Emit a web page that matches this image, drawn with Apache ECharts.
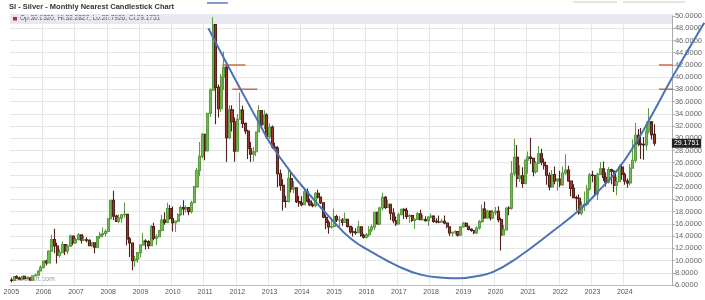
<!DOCTYPE html>
<html>
<head>
<meta charset="utf-8">
<title>SI - Silver - Monthly Nearest Candlestick Chart</title>
<script src="https://cdn.jsdelivr.net/npm/echarts@6/dist/echarts.min.js"></script>
<style>
  html, body { margin: 0; padding: 0; background: #ffffff; }
  #chart { width: 705px; height: 300px; }
</style>
</head>
<body>
<div id="chart"></div>
<script>
// monthly bars, Jan 2005 .. Dec 2024 (one row per year)
const openPx = [
  6.80, 6.75, 7.39, 7.15, 6.93, 7.44, 7.03, 7.19, 6.80, 7.49, 7.62, 8.29,
  8.88, 9.92, 9.61, 11.54, 13.44, 12.39, 10.86, 11.30, 12.61, 11.56, 12.36, 14.00,
  12.90, 13.42, 14.20, 13.32, 13.41, 13.32, 12.43, 12.92, 12.17, 13.91, 14.24, 14.42,
  14.76, 16.83, 19.84, 17.27, 16.40, 16.94, 17.48, 17.55, 13.55, 12.88, 9.96, 10.20,
  11.30, 12.52, 13.18, 13.09, 12.42, 15.55, 13.64, 13.90, 14.91, 16.61, 16.25, 18.52,
  16.87, 16.18, 16.44, 17.51, 18.65, 18.42, 18.68, 18.00, 19.46, 22.09, 24.74, 27.04,
  30.63, 27.95, 34.10, 37.87, 48.60, 38.33, 34.84, 40.05, 41.60, 30.10, 34.65, 32.70,
  27.90, 33.10, 34.61, 32.44, 31.19, 28.32, 27.38, 27.79, 31.03, 34.55, 32.21, 33.81,
  30.27, 31.82, 28.57, 28.39, 24.20, 22.30, 19.69, 19.66, 23.43, 21.70, 21.89, 19.64,
  19.43, 19.13, 21.23, 19.72, 19.11, 18.96, 21.01, 20.38, 19.45, 17.07, 16.22, 15.51,
  15.58, 17.20, 16.62, 16.64, 16.23, 16.73, 15.59, 14.69, 14.62, 14.55, 15.53, 14.12,
  13.82, 14.22, 15.01, 15.47, 17.90, 15.99, 18.60, 20.33, 18.70, 19.20, 17.75, 16.52,
  15.99, 17.50, 18.37, 18.19, 17.22, 17.34, 16.56, 16.73, 17.63, 16.67, 16.70, 16.50,
  17.11, 17.26, 16.41, 16.31, 16.29, 16.43, 16.14, 15.53, 14.53, 14.64, 14.74, 14.16,
  15.52, 16.08, 15.60, 15.10, 14.91, 14.54, 15.33, 16.37, 18.41, 16.97, 18.10, 16.97,
  17.85, 18.06, 16.70, 14.18, 15.02, 18.59, 18.55, 24.20, 26.88, 23.43, 23.86, 22.62,
  26.42, 26.91, 26.71, 24.54, 25.92, 27.48, 26.08, 25.52, 23.96, 22.05, 24.07, 23.01,
  23.35, 22.41, 24.31, 24.80, 23.00, 21.80, 20.30, 20.20, 17.80, 19.00, 19.20, 21.70,
  24.00, 23.90, 20.90, 24.10, 25.00, 23.60, 22.80, 24.90, 24.60, 22.30, 22.90, 25.30,
  24.10, 23.00, 22.70, 25.10, 26.40, 30.50, 29.10, 29.00, 28.90, 31.20, 32.70, 30.632
];
const highPx = [
  7.20, 7.45, 7.60, 7.35, 7.48, 7.50, 7.38, 7.25, 7.55, 7.85, 8.40, 9.25,
  10.05, 10.15, 11.70, 14.20, 15.20, 12.90, 11.80, 13.10, 12.70, 12.60, 14.25, 14.10,
  13.70, 14.50, 14.15, 14.10, 13.80, 13.50, 13.00, 12.95, 13.95, 14.70, 15.40, 15.10,
  16.95, 19.95, 21.40, 17.50, 17.55, 17.60, 19.50, 17.60, 13.85, 12.90, 10.75, 11.40,
  12.65, 14.50, 13.50, 13.30, 15.80, 16.20, 14.30, 15.05, 17.45, 17.90, 19.45, 19.10,
  18.85, 16.55, 17.75, 19.00, 19.85, 19.05, 18.70, 19.80, 22.20, 25.15, 29.40, 30.90,
  30.75, 34.15, 38.20, 49.80, 48.70, 38.80, 40.50, 44.20, 42.40, 35.40, 35.40, 33.40,
  33.95, 37.50, 35.35, 32.60, 31.40, 29.40, 28.60, 31.10, 35.40, 34.55, 34.60, 34.10,
  32.45, 32.10, 29.25, 28.70, 24.90, 23.30, 20.60, 25.10, 24.40, 23.00, 21.90, 20.60,
  20.50, 21.65, 21.80, 20.15, 19.50, 21.20, 21.60, 20.45, 19.50, 17.50, 16.60, 16.90,
  18.50, 17.50, 17.25, 16.95, 17.85, 16.75, 15.65, 15.50, 15.30, 16.50, 15.50, 14.40,
  14.50, 15.65, 15.90, 17.95, 17.75, 18.80, 21.10, 20.55, 19.95, 19.30, 18.55, 17.20,
  17.80, 18.50, 18.55, 18.65, 17.60, 17.50, 16.90, 17.95, 18.30, 17.45, 17.25, 17.25,
  17.70, 17.20, 16.90, 17.35, 16.85, 17.35, 16.20, 15.55, 14.75, 14.95, 14.75, 15.60,
  16.30, 16.25, 15.70, 15.30, 14.95, 15.55, 16.65, 19.15, 19.65, 18.30, 18.15, 18.25,
  18.75, 18.90, 17.00, 15.80, 18.70, 18.90, 26.30, 29.90, 28.90, 25.60, 25.25, 26.50,
  27.85, 30.10, 26.80, 26.30, 28.75, 28.30, 26.70, 25.60, 24.40, 24.80, 25.40, 23.50,
  24.70, 25.40, 27.40, 25.50, 23.00, 22.50, 20.60, 20.80, 19.70, 21.30, 22.40, 24.30,
  24.70, 24.00, 24.40, 26.10, 26.20, 24.40, 25.30, 25.00, 24.80, 23.70, 25.70, 25.90,
  24.40, 23.40, 25.80, 29.80, 32.50, 31.50, 31.70, 30.20, 32.70, 34.90, 32.30, 32.2827
];
const lowPx = [
  6.40, 6.70, 7.00, 6.85, 6.90, 6.95, 6.85, 6.70, 6.75, 7.38, 7.60, 8.25,
  8.70, 9.20, 9.60, 11.40, 11.20, 9.50, 10.45, 11.25, 10.90, 11.05, 12.20, 12.50,
  12.70, 13.35, 12.80, 13.20, 12.95, 12.35, 12.20, 11.20, 12.05, 13.55, 13.80, 13.95,
  14.60, 16.70, 16.60, 16.30, 16.10, 16.20, 17.00, 12.50, 10.60, 8.40, 9.00, 9.65,
  10.50, 12.45, 11.80, 11.90, 12.40, 13.30, 12.55, 13.90, 14.80, 15.85, 16.10, 16.70,
  14.75, 14.65, 16.30, 17.30, 17.40, 17.85, 17.40, 17.70, 19.40, 21.90, 23.80, 26.70,
  26.40, 27.85, 33.50, 37.75, 32.30, 33.40, 34.35, 37.90, 26.10, 29.90, 31.10, 26.15,
  27.90, 33.10, 31.70, 30.70, 26.60, 26.10, 26.20, 27.10, 31.00, 31.50, 31.50, 29.90,
  29.90, 28.30, 28.05, 22.00, 21.40, 18.20, 18.65, 19.50, 21.15, 21.00, 19.40, 18.80,
  18.90, 19.05, 19.50, 18.90, 18.70, 18.70, 20.15, 19.25, 16.95, 15.10, 14.40, 15.20,
  15.40, 16.30, 15.30, 15.70, 16.20, 15.40, 14.40, 13.95, 14.20, 14.45, 13.90, 13.60,
  13.60, 13.90, 14.70, 15.00, 15.85, 15.80, 18.20, 18.45, 18.65, 16.65, 16.10, 15.65,
  15.90, 17.50, 16.80, 16.80, 16.20, 16.30, 15.20, 16.70, 16.65, 16.55, 16.40, 15.65,
  16.90, 16.20, 16.10, 16.10, 16.20, 15.95, 15.30, 14.00, 13.95, 14.25, 13.95, 14.15,
  15.35, 15.50, 14.95, 14.70, 14.30, 14.30, 15.05, 16.20, 16.85, 16.85, 16.55, 16.80,
  17.40, 16.25, 11.64, 14.10, 14.90, 17.40, 18.30, 23.80, 22.00, 22.90, 21.90, 22.50,
  24.20, 25.80, 23.80, 24.20, 25.80, 25.60, 24.90, 22.40, 21.50, 21.90, 22.50, 21.40,
  22.00, 22.20, 24.00, 22.90, 20.50, 20.20, 18.20, 17.50, 17.40, 18.10, 18.90, 21.40,
  22.80, 20.70, 19.90, 24.00, 23.00, 22.10, 22.60, 22.50, 21.20, 20.70, 22.80, 23.20,
  22.40, 21.90, 22.30, 25.20, 26.00, 28.70, 26.60, 26.50, 28.00, 30.80, 29.80, 28.7926
];
const closePx = [
  6.75, 7.39, 7.15, 6.93, 7.44, 7.03, 7.19, 6.80, 7.49, 7.62, 8.29, 8.88,
  9.92, 9.61, 11.54, 13.44, 12.39, 10.86, 11.30, 12.61, 11.56, 12.36, 14.00, 12.90,
  13.42, 14.20, 13.32, 13.41, 13.32, 12.43, 12.92, 12.17, 13.91, 14.24, 14.42, 14.76,
  16.83, 19.84, 17.27, 16.40, 16.94, 17.48, 17.55, 13.55, 12.88, 9.96, 10.20, 11.30,
  12.52, 13.18, 13.09, 12.42, 15.55, 13.64, 13.90, 14.91, 16.61, 16.25, 18.52, 16.87,
  16.18, 16.44, 17.51, 18.65, 18.42, 18.68, 18.00, 19.46, 22.09, 24.74, 27.04, 30.63,
  27.95, 34.10, 37.87, 48.60, 38.33, 34.84, 40.05, 41.60, 30.10, 34.65, 32.70, 27.90,
  33.10, 34.61, 32.44, 31.19, 28.32, 27.38, 27.79, 31.03, 34.55, 32.21, 33.81, 30.27,
  31.82, 28.57, 28.39, 24.20, 22.30, 19.69, 19.66, 23.43, 21.70, 21.89, 19.64, 19.43,
  19.13, 21.23, 19.72, 19.11, 18.96, 21.01, 20.38, 19.45, 17.07, 16.22, 15.51, 15.58,
  17.20, 16.62, 16.64, 16.23, 16.73, 15.59, 14.69, 14.62, 14.55, 15.53, 14.12, 13.82,
  14.22, 15.01, 15.47, 17.90, 15.99, 18.60, 20.33, 18.70, 19.20, 17.75, 16.52, 15.99,
  17.50, 18.37, 18.19, 17.22, 17.34, 16.56, 16.73, 17.63, 16.67, 16.70, 16.50, 17.11,
  17.26, 16.41, 16.31, 16.29, 16.43, 16.14, 15.53, 14.53, 14.64, 14.74, 14.16, 15.52,
  16.08, 15.60, 15.10, 14.91, 14.54, 15.33, 16.37, 18.41, 16.97, 18.10, 16.97, 17.85,
  18.06, 16.70, 14.18, 15.02, 18.59, 18.55, 24.20, 26.88, 23.43, 23.86, 22.62, 26.42,
  26.91, 26.71, 24.54, 25.92, 27.48, 26.08, 25.52, 23.96, 22.05, 24.07, 23.01, 23.35,
  22.41, 24.31, 24.80, 23.00, 21.80, 20.30, 20.20, 17.80, 19.00, 19.20, 21.70, 24.00,
  23.90, 20.90, 24.10, 25.00, 23.60, 22.80, 24.90, 24.60, 22.30, 22.90, 25.30, 24.10,
  23.00, 22.70, 25.10, 26.40, 30.50, 29.10, 29.00, 28.90, 31.20, 32.70, 30.60, 29.1751
];

const years = [2005, 2006, 2007, 2008, 2009, 2010, 2011, 2012, 2013, 2014,
  2015, 2016, 2017, 2018, 2019, 2020, 2021, 2022, 2023, 2024];
const padMonths = ['2025-01', '2025-02', '2025-03', '2025-04', '2025-05', '2025-06'];
const yTicks = { min: 6, max: 50, step: 2 };

// hand-drawn cup curve, [month index from Jan 2005, price]
const cupCurve = [
  [73.1, 48.0], [80.2, 42.0], [92.5, 32.0], [96.2, 29.1], [103.6, 24.5],
  [111.0, 20.6], [118.5, 16.9], [125.9, 13.6], [133.3, 11.5], [143.4, 9.1],
  [151.9, 7.7], [160.0, 7.2], [166.0, 7.1], [172.0, 7.4], [179.0, 8.2],
  [187.9, 10.5], [200.3, 14.6], [211.4, 18.5], [218.8, 21.8], [225.2, 25.0],
  [232.6, 29.9], [237.4, 33.6], [244.8, 39.6], [251.2, 44.5], [257.1, 48.9]
];
// short resistance marks (orange)
const levelMarks = [
  [[78.3, 42.0], [86.9, 42.0]],
  [[82.0, 38.0], [91.3, 38.0]],
  [[240.3, 42.0], [245.5, 42.0]],
  [[240.3, 38.0], [245.5, 38.0]]
];

(function () {
  'use strict';

  const months = [];
  years.forEach(function (y) {
    for (let m = 1; m <= 12; m++) months.push(y + '-' + (m < 10 ? '0' + m : m));
  });
  const categories = months.concat(padMonths);

  const candles = categories.map(function (c, i) {
    if (i >= closePx.length) return '-';
    return [openPx[i], closePx[i], lowPx[i], highPx[i]];
  });

  const last = closePx.length - 1;
  const fontFamily = '"Liberation Sans", Arial, sans-serif';
  const gridColor = '#e6e6e6';

  // overlay grid reaches the right edge of the page so the curve can run past the price axis;
  // its month scale is kept identical to the main grid
  const plotLeft = 10, plotRight = 32, pageWidth = 705;
  const pxPerMonth = (pageWidth - plotLeft - plotRight) / categories.length;
  const overlayMax = -0.5 + (pageWidth - plotLeft) / pxPerMonth;

  const chart = echarts.init(document.getElementById('chart'));

  const levelSeries = levelMarks.map(function (seg) {
    return {
      type: 'line',
      xAxisIndex: 1,
      yAxisIndex: 1,
      data: seg,
      symbol: 'none',
      silent: true,
      z: 4,
      lineStyle: { color: '#cc6a45', width: 1.5 }
    };
  });

  chart.setOption({
    animation: false,
    backgroundColor: '#ffffff',
    textStyle: { fontFamily: fontFamily },
    grid: [
      { left: plotLeft, right: plotRight, top: 16, bottom: 15 },
      { left: plotLeft, right: 0, top: 16, bottom: 15 }
    ],
    xAxis: [
      {
        type: 'category',
        gridIndex: 0,
        data: categories,
        boundaryGap: true,
        axisLine: { lineStyle: { color: '#bbbbbb' } },
        axisTick: { show: false },
        axisLabel: {
          interval: function (i) { return i % 12 === 0 && i < months.length; },
          formatter: function (v) { return v.slice(0, 4); },
          color: '#555555',
          fontSize: 7,
          margin: 4
        },
        splitLine: {
          show: true,
          interval: function (i) { return i % 12 === 0 && i > 0 && i < months.length; },
          lineStyle: { color: gridColor, width: 1 }
        }
      },
      {
        type: 'value',
        gridIndex: 1,
        min: -0.5,
        max: overlayMax,
        show: false
      }
    ],
    yAxis: [
      {
        type: 'value',
        gridIndex: 0,
        position: 'right',
        min: yTicks.min,
        max: yTicks.max,
        interval: yTicks.step,
        axisLine: { show: true, lineStyle: { color: '#aaaaaa' } },
        axisTick: { show: true, length: 3, lineStyle: { color: '#aaaaaa' } },
        axisLabel: {
          color: '#666666',
          fontSize: 7.5,
          margin: 3,
          formatter: function (v) { return v.toFixed(4); }
        },
        splitLine: { lineStyle: { color: gridColor, width: 1 } }
      },
      {
        type: 'value',
        gridIndex: 1,
        min: yTicks.min,
        max: yTicks.max,
        show: false
      }
    ],
    graphic: [
      { type: 'rect', shape: { x: 10, y: 14, width: 663, height: 10 }, style: { fill: '#e7e7f6' }, z: -1 },
      { type: 'rect', shape: { x: 13, y: 16.5, width: 4, height: 4 }, style: { fill: '#b0303a' } },
      {
        type: 'text', x: 20, y: 18.5,
        style: {
          text: 'Op:' + openPx[last].toFixed(4) + ', Hi:' + highPx[last].toFixed(4) +
            ', Lo:' + lowPx[last].toFixed(4) + ', Cl:' + closePx[last].toFixed(4),
          fill: '#555555', fontSize: 6.5, fontFamily: fontFamily, verticalAlign: 'middle'
        }
      },
      {
        type: 'text', x: 9, y: 7,
        style: {
          text: 'SI - Silver - Monthly Nearest Candlestick Chart',
          fill: '#333333', fontSize: 7.5, fontWeight: 'bold', fontFamily: fontFamily, verticalAlign: 'middle'
        }
      },
      {
        type: 'text', x: 14, y: 279, z: -1,
        style: { text: 'barchart.com', fill: '#999999', fontSize: 7, fontFamily: fontFamily, verticalAlign: 'middle' }
      },
      // toolbar remnants along the top edge
      { type: 'line', shape: { x1: 207, y1: 3, x2: 228, y2: 3 }, style: { stroke: '#7f9fd0', lineWidth: 2 } },
      { type: 'line', shape: { x1: 573, y1: 2, x2: 617, y2: 2 }, style: { stroke: '#c8c8c8', lineWidth: 1 } },
      { type: 'line', shape: { x1: 623, y1: 2, x2: 685, y2: 2 }, style: { stroke: '#c8c8c8', lineWidth: 1 } }
    ],
    series: [
      {
        name: 'SI',
        type: 'candlestick',
        xAxisIndex: 0,
        yAxisIndex: 0,
        data: candles,
        barWidth: '95%',
        z: 3,
        itemStyle: {
          color: '#74bf50',
          color0: '#a8382a',
          borderColor: '#5e9c44',
          borderColor0: '#4e231c',
          borderWidth: 1.1
        },
        markLine: {
          silent: true,
          symbol: 'none',
          lineStyle: { color: 'rgba(0,0,0,0)', width: 0 },
          label: {
            show: true,
            position: 'end',
            distance: 0,
            formatter: function () { return closePx[last].toFixed(4); },
            color: '#ffffff',
            backgroundColor: '#222222',
            fontSize: 7,
            padding: [1, 2]
          },
          data: [{ yAxis: closePx[last] }]
        }
      },
      {
        name: 'Cup',
        type: 'line',
        xAxisIndex: 1,
        yAxisIndex: 1,
        data: cupCurve,
        smooth: 0.5,
        symbol: 'none',
        silent: true,
        z: 5,
        lineStyle: { color: '#4c72b8', width: 2 }
      }
    ].concat(levelSeries)
  });
})();
</script>
</body>
</html>
